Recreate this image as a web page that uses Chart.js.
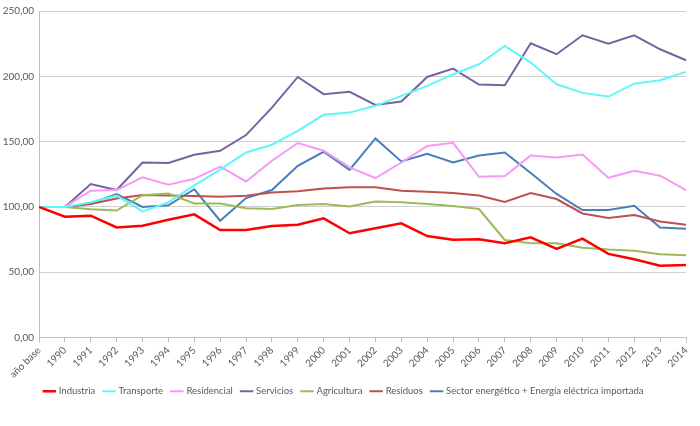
<!DOCTYPE html>
<html>
<head>
<meta charset="utf-8">
<script src="https://cdn.jsdelivr.net/npm/chart.js@4.4.0/dist/chart.umd.min.js"></script>
<style>
  html, body { margin: 0; padding: 0; background: #fff; }
  #wrap { width: 700px; height: 426px; }
</style>
</head>
<body>
<div id="wrap"><canvas id="chart"></canvas></div>
<script>
const categories = ["año base", "1990", "1991", "1992", "1993", "1994", "1995", "1996", "1997", "1998", "1999",
  "2000", "2001", "2002", "2003", "2004", "2005", "2006", "2007", "2008", "2009", "2010", "2011", "2012", "2013", "2014"];

const industria = [100, 92.5, 93.3, 84.3, 85.6, 90.2, 94.3, 82.3, 82.3, 85.4, 86.4, 91.2, 79.8, 83.6, 87.4, 77.7,
  74.9, 75.2, 72.1, 76.7, 67.8, 75.7, 64, 59.9, 55, 55.6];
const transporte = [100, 100, 103.5, 108.6, 96.6, 103.5, 116.5, 128.5, 141.7, 147.6, 158.3, 170.5, 172.2, 177.4,
  185, 192.7, 201.6, 209.2, 223.2, 210.5, 193.9, 187.3, 184.5, 194.4, 197, 203.4];
const residencial = [100, 100, 112.4, 112.9, 122.6, 117, 121.5, 130.8, 119.5, 135.3, 148.9, 143, 130.2, 122.1,
  134, 146.6, 149.1, 123.1, 123.6, 139.4, 137.8, 140.1, 122.3, 127.7, 123.9, 112.9];
const servicios = [100, 100, 117.5, 112.9, 134, 133.6, 139.9, 143, 155, 176, 199.5, 186.3, 188.1, 178.1, 180.7,
  199.5, 205.9, 193.7, 193.2, 225.3, 216.9, 231.4, 225, 231.4, 220.7, 212.3];
const agricultura = [100, 100, 98.2, 97.2, 109, 110.3, 102.6, 102.6, 98.9, 98.4, 101.5, 102.2, 100.4, 104.2,
  103.5, 102.2, 100.7, 98.4, 74.7, 72.1, 72.1, 68.8, 67.3, 66.5, 63.7, 62.9];
const residuos = [100, 100, 102.2, 106.5, 109.1, 108.8, 108.3, 107.8, 108.6, 111.1, 111.9, 114.1, 115, 115,
  112.4, 111.6, 110.6, 108.8, 103.7, 110.6, 106, 95, 91.5, 93.8, 88.9, 86.4];
const energetico = [100, 100, 102.6, 109.9, 100, 101.2, 113.5, 89.4, 106.8, 112.9, 131.5, 142.2, 128.4, 152.4,
  134.8, 140.7, 134, 139.4, 141.7, 125.9, 109.9, 97.6, 97.6, 100.9, 84.3, 83.3];

const yTicks = [0, 50, 100, 150, 200, 250];

const FONT = "Lato, 'Open Sans', sans-serif";
const TEXT = "#595959";

function serie(label, data, color, width) {
  return {
    label: label,
    data: data,
    borderColor: color,
    backgroundColor: color,
    borderWidth: width || 2,
    pointRadius: 0,
    pointHoverRadius: 0,
    tension: 0,
    fill: false
  };
}

new Chart(document.getElementById("chart"), {
  type: "line",
  data: {
    labels: categories,
    datasets: [
      serie("Industria", industria, "#FF0000", 2.5),
      serie("Transporte", transporte, "#5EF7F7"),
      serie("Residencial", residencial, "#F59AF5"),
      serie("Servicios", servicios, "#7B61A0"),
      serie("Agricultura", agricultura, "#9BBB59"),
      serie("Residuos", residuos, "#C0504D"),
      serie("Sector energético + Energía eléctrica importada", energetico, "#4A7EBB")
    ]
  },
  options: {
    responsive: true,
    maintainAspectRatio: false,
    animation: false,
    layout: { padding: { left: 2, right: 14, top: 0, bottom: 20 } },
    plugins: {
      tooltip: { enabled: false },
      legend: {
        position: "bottom",
        labels: {
          usePointStyle: true,
          pointStyle: "line",
          boxWidth: 16,
          padding: 9,
          color: TEXT,
          font: { family: FONT, size: 9.5 }
        }
      }
    },
    scales: {
      x: {
        offset: false,
        afterFit: (axis) => { axis.height = 40; },
        grid: { drawOnChartArea: false, drawTicks: true, tickLength: 5, color: "#BFBFBF" },
        border: { display: true, color: "#BFBFBF" },
        ticks: {
          minRotation: 45,
          maxRotation: 45,
          autoSkip: false,
          padding: 2,
          color: TEXT,
          font: { family: FONT, size: 10 }
        }
      },
      y: {
        min: 0,
        max: 250,
        afterBuildTicks: (axis) => { axis.ticks = yTicks.map(v => ({ value: v })); },
        afterFit: (axis) => { axis.width = 37; },
        grid: { color: "#D0D0D0", drawTicks: false },
        border: { display: true, color: "#BFBFBF" },
        ticks: {
          padding: 5,
          color: TEXT,
          font: { family: FONT, size: 10 },
          callback: (v) => v.toFixed(2).replace(".", ",")
        }
      }
    }
  }
});
</script>
</body>
</html>
